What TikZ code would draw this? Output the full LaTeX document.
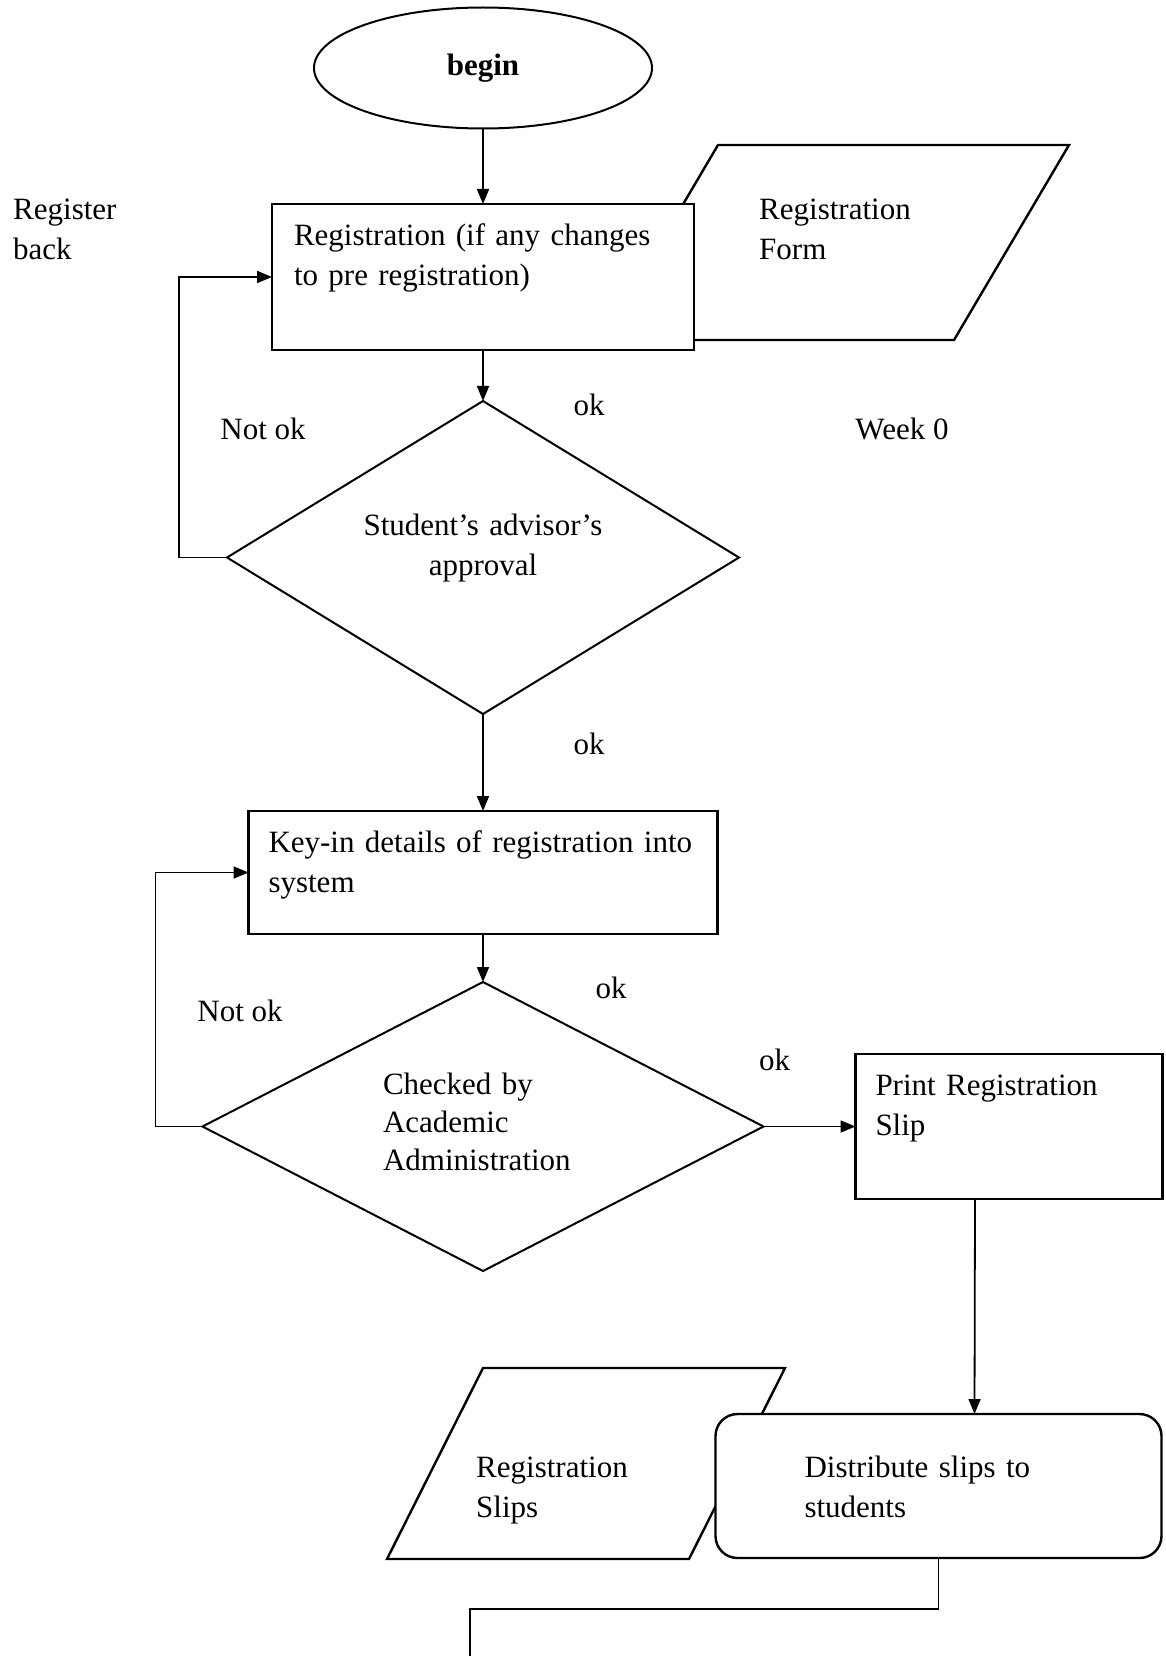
\documentclass[tikz,border=0pt]{standalone}
\usepackage{fontspec}
\setmainfont{Liberation Serif}
\usepackage{tikz}
\usetikzlibrary{positioning,arrows.meta,calc,shapes.geometric}
\newcommand{\flowfont}{\fontsize{31pt}{40pt}\selectfont}
\tikzset{
  startnode/.style={draw, ellipse, line width=2pt, minimum width=338pt, minimum height=121pt,
                    inner sep=0pt, outer sep=0pt, font=\flowfont\bfseries},
  procbox/.style  ={draw, fill=white, line width=2.4pt, align=left, inner ysep=0pt,
                    inner xsep=20pt, outer sep=0pt, font=\flowfont},
  decision/.style ={draw, diamond, line width=2pt, inner sep=0pt, outer sep=0pt,
                    font=\flowfont, text height=20pt},
  docpath/.style  ={draw, fill=white, line width=2.4pt},
  lbl/.style      ={font=\flowfont, inner sep=0pt, text height=22pt, text depth=7pt},
  ar/.style       ={-{Triangle[length=15pt,width=12pt]}, line width=1.8pt},
}
\begin{document}
\begin{tikzpicture}[x=1pt,y=-1pt]
\useasboundingbox (0,0) rectangle (1166,1656);
% input/output documents, partly hidden behind the boxes
\draw[docpath] (603,340) -- (718,145) -- (1069,145) -- (954,340) -- cycle;
\draw[docpath] (387,1559) -- (483,1368) -- (785,1368) -- (689,1559) -- cycle;

\node[startnode] (begin) at (483,68) {begin};
\node[procbox,below=75.5pt of begin,inner xsep=22pt,text width=378pt,text height=41pt,text depth=105pt] (reg)
  {Registration (if any changes\\ to pre registration)};
\node[decision,below=51pt of reg,minimum width=512pt,minimum height=313pt,aspect=1.64,
      text width=250pt,align=center,text depth=64pt] (advisor) {Student’s advisor’s\\ approval};
\node[procbox,below=97pt of advisor,text width=429pt,text height=41pt,text depth=82pt] (keyin)
  {Key-in details of registration into\\ system};
\node[decision,below=48pt of keyin,minimum width=561pt,minimum height=289pt,aspect=1.94,
      font=\fontsize{31pt}{38pt}\selectfont,
      text width=200pt,align=left,text depth=84pt] (check) {Checked by\\ Academic\\ Administration};
\node[procbox,right=92pt of check,text width=267pt,text height=41pt,text depth=104pt] (print)
  {Print Registration\\ Slip};
\node[procbox,rounded corners=22pt,below=215pt of print,xshift=-70.5pt,inner xsep=89pt,
      text width=268pt,text height=63pt,text depth=81pt] (distrib) {Distribute slips to\\ students};

% side texts
\node[lbl,anchor=west,text width=110pt,align=left,text depth=47pt] (regback) at (13,232) {Register\\ back};
\node[lbl,anchor=west,text width=160pt,align=left,text depth=47pt] (formtxt) at (759,232) {Registration\\ Form};
\node[lbl,anchor=west,text width=160pt,align=left,text depth=47pt] (slipstxt) at (476,1490) {Registration\\ Slips};
\node[lbl] (ok1) at ($(advisor.north)+(106,7)$) {ok};
\node[lbl] (notok1) at ($(advisor.north)+(-220,31)$) {Not ok};
\node[lbl] (week) at ($(advisor.north)+(419,31)$) {Week 0};
\node[lbl] (ok2) at ($(advisor.south)+(106,33)$) {ok};
\node[lbl] (ok3) at ($(check.north)+(128,9)$) {ok};
\node[lbl] (notok2) at ($(check.north)+(-243,32)$) {Not ok};
\node[lbl] (ok4) at ($(check.east)+(11,-64)$) {ok};

\draw[ar] (begin) -- (reg);
\draw[ar] (reg) -- (advisor);
\draw[ar] (advisor) -- (keyin);
\draw[ar] (keyin) -- (check);
\draw[ar] (check) -- (print);
\draw[ar] ([xshift=-34pt]print.south) -- ([xshift=36pt]distrib.north);
\draw[ar] (advisor.west) -- ++(-48,0) |- (reg.west);
\draw[ar] (check.west) -- ++(-47,0) |- (keyin.west);
\coordinate (tail) at (470,1656);
\draw[line width=1.8pt] (distrib.south) -- ++(0,51) -| (tail);
\end{tikzpicture}
\end{document}
